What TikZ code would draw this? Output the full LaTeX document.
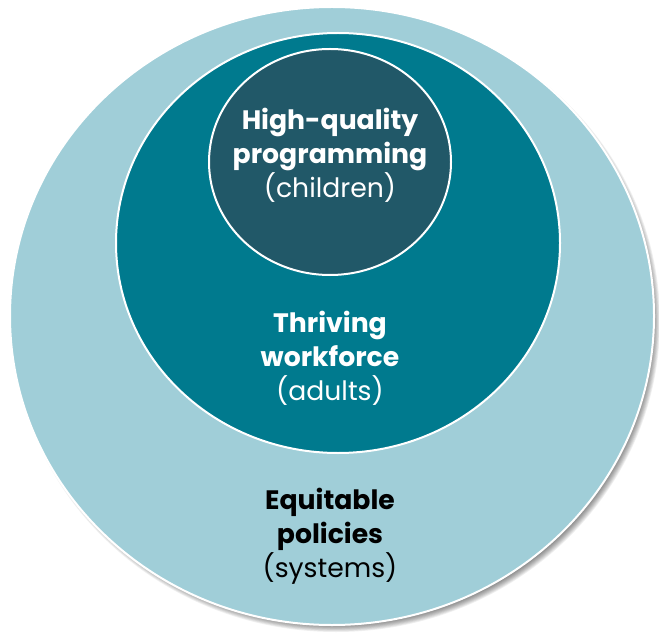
\documentclass[tikz,border=0pt]{standalone}
\usepackage{fontspec}
\setmainfont{Poppins}
\usetikzlibrary{shapes.geometric}

\definecolor{outerblue}{RGB}{160,206,216}
\definecolor{midteal}{RGB}{0,122,142}
\definecolor{innerdark}{RGB}{33,88,104}

\tikzset{every picture/.style={line width=0.75pt}}
\tikzset{
  ring/.style={ellipse, draw=white, line width=1.5pt, inner sep=0pt},
  label/.style={align=center, inner sep=0.75pt, font=\fontsize{20}{25.5}\selectfont},
}

\begin{document}
\begin{tikzpicture}[x=0.75pt,y=0.75pt,yscale=-1,xscale=1]
        \useasboundingbox (0,0) rectangle (659,634);

        %Shadow
        \foreach \s in {0,1,...,9}
          \fill [black, opacity=0.06] (336,321) ellipse ({324-\s*0.8} and {311-\s*0.8});

        %Ellipses
        \node [ring, fill=outerblue, minimum width=483pt, minimum height=463.5pt] (systems) at (332,316) {};
        \node [ring, fill=midteal, minimum width=333pt, minimum height=315pt] (workforce) at (338,243) {};
        \node [ring, fill=innerdark, minimum width=181.5pt, minimum height=169.5pt] (programming) at (330,162) {};

        % Text Node
        \node [label, text=white] (childtxt) at (330,155) {\textbf{High-quality}\\\textbf{programming}\\(children)};
        % Text Node
        \node [label, text=white] (adulttxt) at (330,358) {\textbf{Thriving}\\\textbf{workforce}\\(adults)};
        % Text Node
        \node [label, text=black] (systemtxt) at (330,536) {\textbf{Equitable}\\\textbf{policies}\\(systems)};
\end{tikzpicture}
\end{document}
